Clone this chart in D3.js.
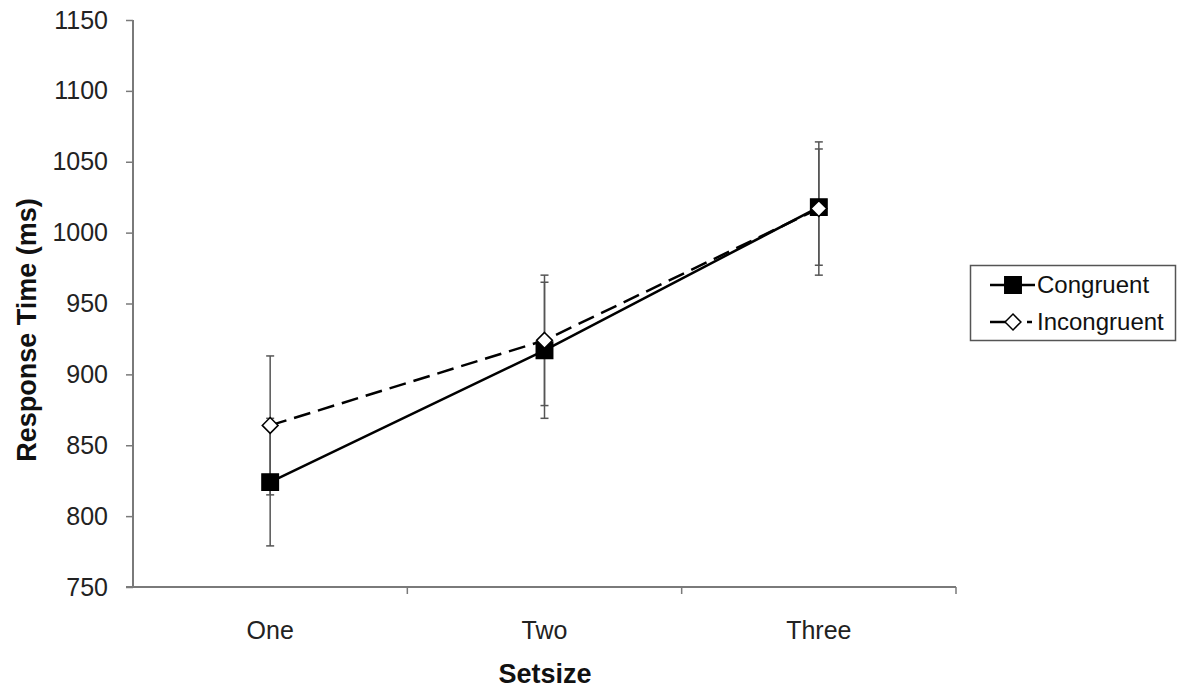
<!DOCTYPE html>
<html>
<head>
<meta charset="utf-8">
<script src="https://cdn.jsdelivr.net/npm/d3@7"></script>
<style>
  body { margin: 0; background: #fff; }
  text { font-family: "Liberation Sans", Arial, sans-serif; }
</style>
</head>
<body>
<svg width="1178" height="689"></svg>
<script>
// data
var categories = ["One", "Two", "Three"]
var congruent = [824, 917, 1018]
var congruentErr = [45, 48, 41]
var incongruent = [864, 924, 1017]
var incongruentErr = [49, 46, 47]
var yTicks = [750, 800, 850, 900, 950, 1000, 1050, 1100, 1150]

var series = [
    { name: "Congruent", values: congruent, err: congruentErr, marker: "square", dash: null, legendDash: null },
    { name: "Incongruent", values: incongruent, err: incongruentErr, marker: "diamond", dash: "17,8", legendDash: "20,17,5,10" }
]

var svg = d3.select("svg")

var x = d3.scaleBand()
    .domain(categories)
    .range([133, 956])

var y = d3.scaleLinear()
    .domain([750, 1150])
    .range([587, 20])

var axisColor = "#7a7a7a"

// y axis
var yAxis = svg.append("g")
    .attr("transform", "translate(133,0)")
    .call(d3.axisLeft(y).tickValues(yTicks).tickFormat(d3.format("d")).tickSize(7).tickPadding(18))
yAxis.select(".domain").attr("stroke", axisColor).attr("stroke-width", 2)
    .attr("d", "M0," + y(1150) + "V" + y(750))
yAxis.selectAll(".tick line").attr("stroke", axisColor).attr("stroke-width", 1.5)
yAxis.selectAll(".tick text")
    .attr("font-size", 25)
    .attr("fill", "#222")

// x axis (ticks on category boundaries)
var xAxis = svg.append("g")
    .attr("transform", "translate(0,587)")
xAxis.append("path")
    .attr("d", "M" + (x.range()[0] - 7) + ",0H" + x.range()[1])
    .attr("stroke", axisColor)
    .attr("stroke-width", 2)
xAxis.selectAll(".bound")
    .data(categories)
    .enter()
    .append("line")
    .attr("x1", (d) => x(d) + x.bandwidth())
    .attr("x2", (d) => x(d) + x.bandwidth())
    .attr("y1", 0)
    .attr("y2", 7)
    .attr("stroke", axisColor)
    .attr("stroke-width", 1.5)
xAxis.selectAll(".lbl")
    .data(categories)
    .enter()
    .append("text")
    .attr("x", (d) => x(d) + x.bandwidth() / 2)
    .attr("y", 52)
    .attr("text-anchor", "middle")
    .attr("font-size", 25)
    .attr("fill", "#222")
    .text((d) => d)

// axis titles
svg.append("text")
    .attr("transform", "translate(36,330) rotate(-90)")
    .attr("text-anchor", "middle")
    .attr("font-size", 27)
    .attr("font-weight", "bold")
    .attr("fill", "#111")
    .text("Response Time (ms)")

svg.append("text")
    .attr("x", 545)
    .attr("y", 683)
    .attr("text-anchor", "middle")
    .attr("font-size", 27)
    .attr("font-weight", "bold")
    .attr("fill", "#111")
    .text("Setsize")

var cx = (i) => x(categories[i]) + x.bandwidth() / 2

// error bars
series.forEach(function (s) {
    var g = svg.append("g")
    s.values.forEach(function (v, i) {
        var lo = y(v - s.err[i]), hi = y(v + s.err[i])
        g.append("line")
            .attr("x1", cx(i)).attr("x2", cx(i))
            .attr("y1", lo).attr("y2", hi)
            .attr("stroke", "#555").attr("stroke-width", 1.5)
        ;[lo, hi].forEach(function (yy) {
            g.append("line")
                .attr("x1", cx(i) - 4).attr("x2", cx(i) + 4)
                .attr("y1", yy).attr("y2", yy)
                .attr("stroke", "#555").attr("stroke-width", 1.5)
        })
    })
})

var line = d3.line()
    .x((d, i) => cx(i))
    .y((d) => y(d))

var square = d3.symbol().type(d3.symbolSquare).size(270)
var diamond = d3.symbol().type(d3.symbolDiamond2).size(160)

function drawMarker(g, kind, px, py) {
    g.append("path")
        .attr("transform", "translate(" + px + "," + py + ")")
        .attr("d", kind == "square" ? square() : diamond())
        .attr("fill", kind == "square" ? "#000" : "#fff")
        .attr("stroke", "#000")
        .attr("stroke-width", 1.5)
}

series.forEach(function (s) {
    var g = svg.append("g")
    g.append("path")
        .datum(s.values)
        .attr("d", line)
        .attr("fill", "none")
        .attr("stroke", "#000")
        .attr("stroke-width", 2.5)
        .attr("stroke-dasharray", s.dash)
    s.values.forEach(function (v, i) {
        drawMarker(g, s.marker, cx(i), y(v))
    })
})

// legend
var legend = svg.append("g")
legend.append("rect")
    .attr("x", 970.5).attr("y", 265.5)
    .attr("width", 205).attr("height", 75)
    .attr("fill", "#fff")
    .attr("stroke", "#555")
    .attr("stroke-width", 1.5)

series.forEach(function (s, i) {
    var ly = 285 + i * 37
    legend.append("line")
        .attr("x1", 990).attr("x2", 1035)
        .attr("y1", ly).attr("y2", ly)
        .attr("stroke", "#000")
        .attr("stroke-width", 2.5)
        .attr("stroke-dasharray", s.legendDash)
    drawMarker(legend, s.marker, 1013, ly)
    legend.append("text")
        .attr("x", 1037)
        .attr("y", ly + 8)
        .attr("font-size", 24)
        .attr("fill", "#111")
        .text(s.name)
})
</script>
</body>
</html>
